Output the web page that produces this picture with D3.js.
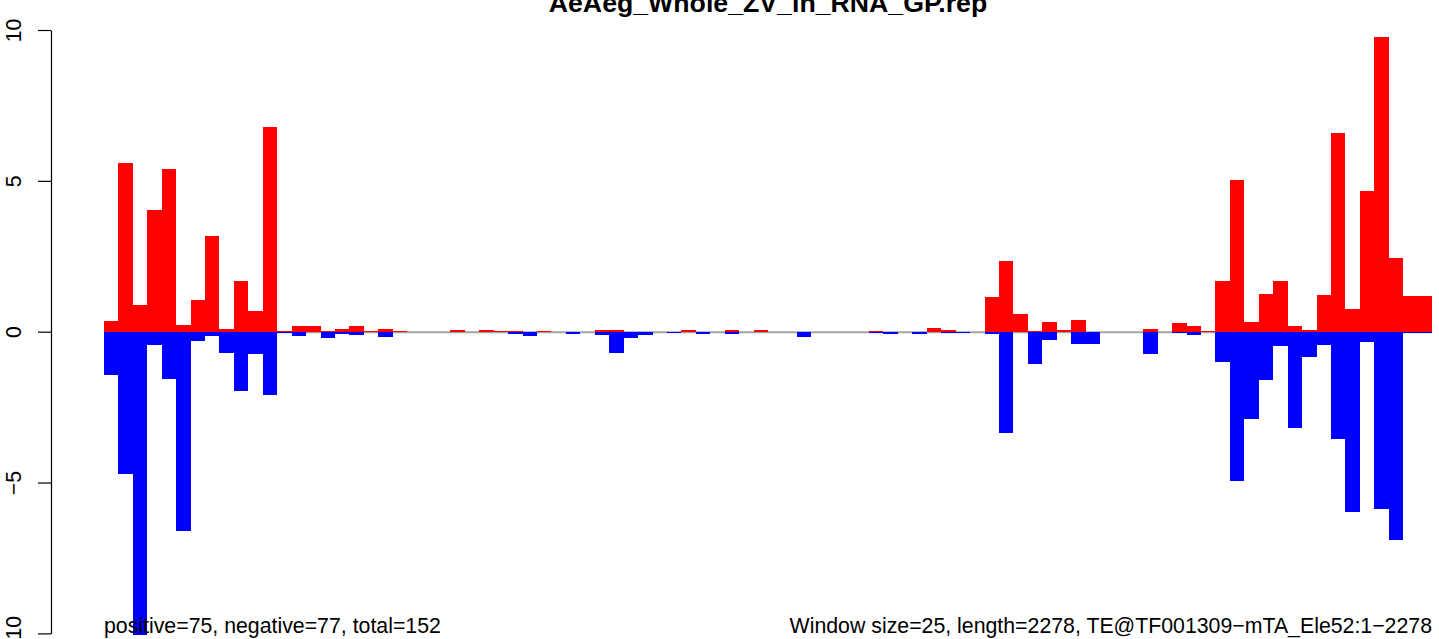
<!DOCTYPE html>
<html>
<head>
<meta charset="utf-8">
<script src="https://cdn.jsdelivr.net/npm/d3@7"></script>
<style>
  body { margin: 0; background: #fff; }
  svg text { font-family: "Liberation Sans", Arial, Helvetica, sans-serif; }
</style>
</head>
<body>
<div id="chart"></div>
<script>
// TE coverage, window size 25 over a 2278 bp element
var title = "AeAeg_Whole_ZV_in_RNA_GP.rep";
var windowSize = 25, teLength = 2278;
var leftNote = "positive=75, negative=77, total=152";
var rightNote = "Window size=25, length=2278, TE@TF001309\u2212mTA_Ele52:1\u22122278";
var yTicks = [-10, -5, 0, 5, 10];

// window start positions (one per bar)
var windows = d3.range(0, teLength, windowSize);

// sense (positive) values per window
var positive = [
  0.35, 5.6, 0.88, 4.04, 5.4, 0.22, 1.05, 3.17, 0.08, 1.68,
  0.68, 6.79, 0.03, 0.18, 0.18, 0.03, 0.08, 0.18, 0.03, 0.08,
  0.03, 0, 0, 0, 0.04, 0, 0.06, 0.03, 0.03, 0,
  0.03, 0, 0, 0, 0.06, 0.06, 0, 0, 0, 0,
  0.04, 0, 0, 0.04, 0, 0.06, 0, 0, 0, 0,
  0, 0, 0, 0.03, 0, 0, 0, 0.13, 0.06, 0,
  0, 1.16, 2.34, 0.58, 0.03, 0.32, 0.06, 0.38, 0, 0,
  0, 0, 0.08, 0, 0.28, 0.18, 0.03, 1.68, 5.03, 0.32,
  1.25, 1.68, 0.18, 0.05, 1.21, 6.6, 0.75, 4.67, 9.78, 2.44,
  1.18, 1.18
];

// antisense (negative) values per window
var negative = [
  -1.45, -4.73, -10.05, -0.45, -1.58, -6.6, -0.3, -0.14, -0.71, -1.97,
  -0.75, -2.11, -0.05, -0.14, 0, -0.2, -0.07, -0.1, 0, -0.17,
  0, 0, 0, 0, 0, 0, 0, 0, -0.07, -0.14,
  0, 0, -0.08, 0, -0.12, -0.71, -0.22, -0.12, 0, -0.04,
  0, -0.08, 0, -0.08, 0, 0, 0, 0, -0.18, 0,
  0, 0, 0, -0.04, -0.08, 0, -0.08, 0, -0.03, -0.03,
  0, -0.08, -3.37, 0, -1.07, -0.28, 0, -0.4, -0.4, 0,
  0, 0, -0.74, 0, -0.05, -0.11, 0, -1.0, -4.95, -2.9,
  -1.61, -0.47, -3.2, -0.84, -0.44, -3.56, -5.99, -0.35, -5.89, -6.92,
  -0.03, -0.03
];

var width = 1439, height = 639;

var svg = d3.select("#chart")
  .append("svg")
  .attr("width", width)
  .attr("height", height);

var x = d3.scaleLinear()
  .domain([0, windows.length * windowSize])
  .range([104, 1432]);

var y = d3.scaleLinear()
  .domain([-10, 10])
  .range([633.4, 30]);

svg.append("clipPath").attr("id", "plotclip")
  .append("rect")
  .attr("x", 0).attr("y", 0)
  .attr("width", width).attr("height", height);

// zero line
svg.append("line")
  .attr("x1", x.range()[0]).attr("x2", x.range()[1])
  .attr("y1", y(0) + 0.5).attr("y2", y(0) + 0.5)
  .attr("stroke", "#a3a3a3")
  .attr("stroke-width", 2);

var bars = svg.append("g").attr("clip-path", "url(#plotclip)");

bars.selectAll(".pos")
  .data(windows.map(function(w, i) { return {start: w, value: positive[i]}; }))
  .join("rect")
  .attr("class", "pos")
  .attr("x", function(d) { return x(d.start); })
  .attr("width", function(d) { return x(d.start + windowSize) - x(d.start); })
  .attr("y", function(d) { return y(d.value); })
  .attr("height", function(d) { return y(0) - y(d.value); })
  .attr("fill", "#ff0000")
  .attr("shape-rendering", "crispEdges");

bars.selectAll(".neg")
  .data(windows.map(function(w, i) { return {start: w, value: negative[i]}; }))
  .join("rect")
  .attr("class", "neg")
  .attr("x", function(d) { return x(d.start); })
  .attr("width", function(d) { return x(d.start + windowSize) - x(d.start); })
  .attr("y", y(0))
  .attr("height", function(d) { return y(d.value) - y(0); })
  .attr("fill", "#0000ff")
  .attr("shape-rendering", "crispEdges");

// y axis, labels turned like R's las=0
var yAxis = svg.append("g")
  .attr("transform", "translate(51,0)")
  .call(d3.axisLeft(y).tickValues(yTicks).tickSize(13).tickSizeOuter(0));

yAxis.select(".domain").attr("stroke", "#000").attr("stroke-width", 1.2);
yAxis.selectAll(".tick line").attr("stroke", "#000").attr("stroke-width", 1.2);
yAxis.selectAll(".tick text")
  .attr("transform", "rotate(-90)")
  .attr("x", 0)
  .attr("y", -30)
  .attr("dy", null)
  .attr("text-anchor", "middle")
  .attr("fill", "#000")
  .style("font-size", "21.3px")
  .style("font-family", "'Liberation Sans', Arial, sans-serif");

// title, partly cut off at the top as in the original
svg.append("text")
  .attr("x", (x.range()[0] + x.range()[1]) / 2)
  .attr("y", 12)
  .attr("text-anchor", "middle")
  .attr("font-weight", "bold")
  .attr("font-size", "26.7px")
  .text(title);

svg.append("text")
  .attr("x", 104)
  .attr("y", 633)
  .attr("font-size", "21.3px")
  .text(leftNote);

svg.append("text")
  .attr("x", 1432)
  .attr("y", 633)
  .attr("text-anchor", "end")
  .attr("font-size", "21.3px")
  .text(rightNote);
</script>
</body>
</html>
